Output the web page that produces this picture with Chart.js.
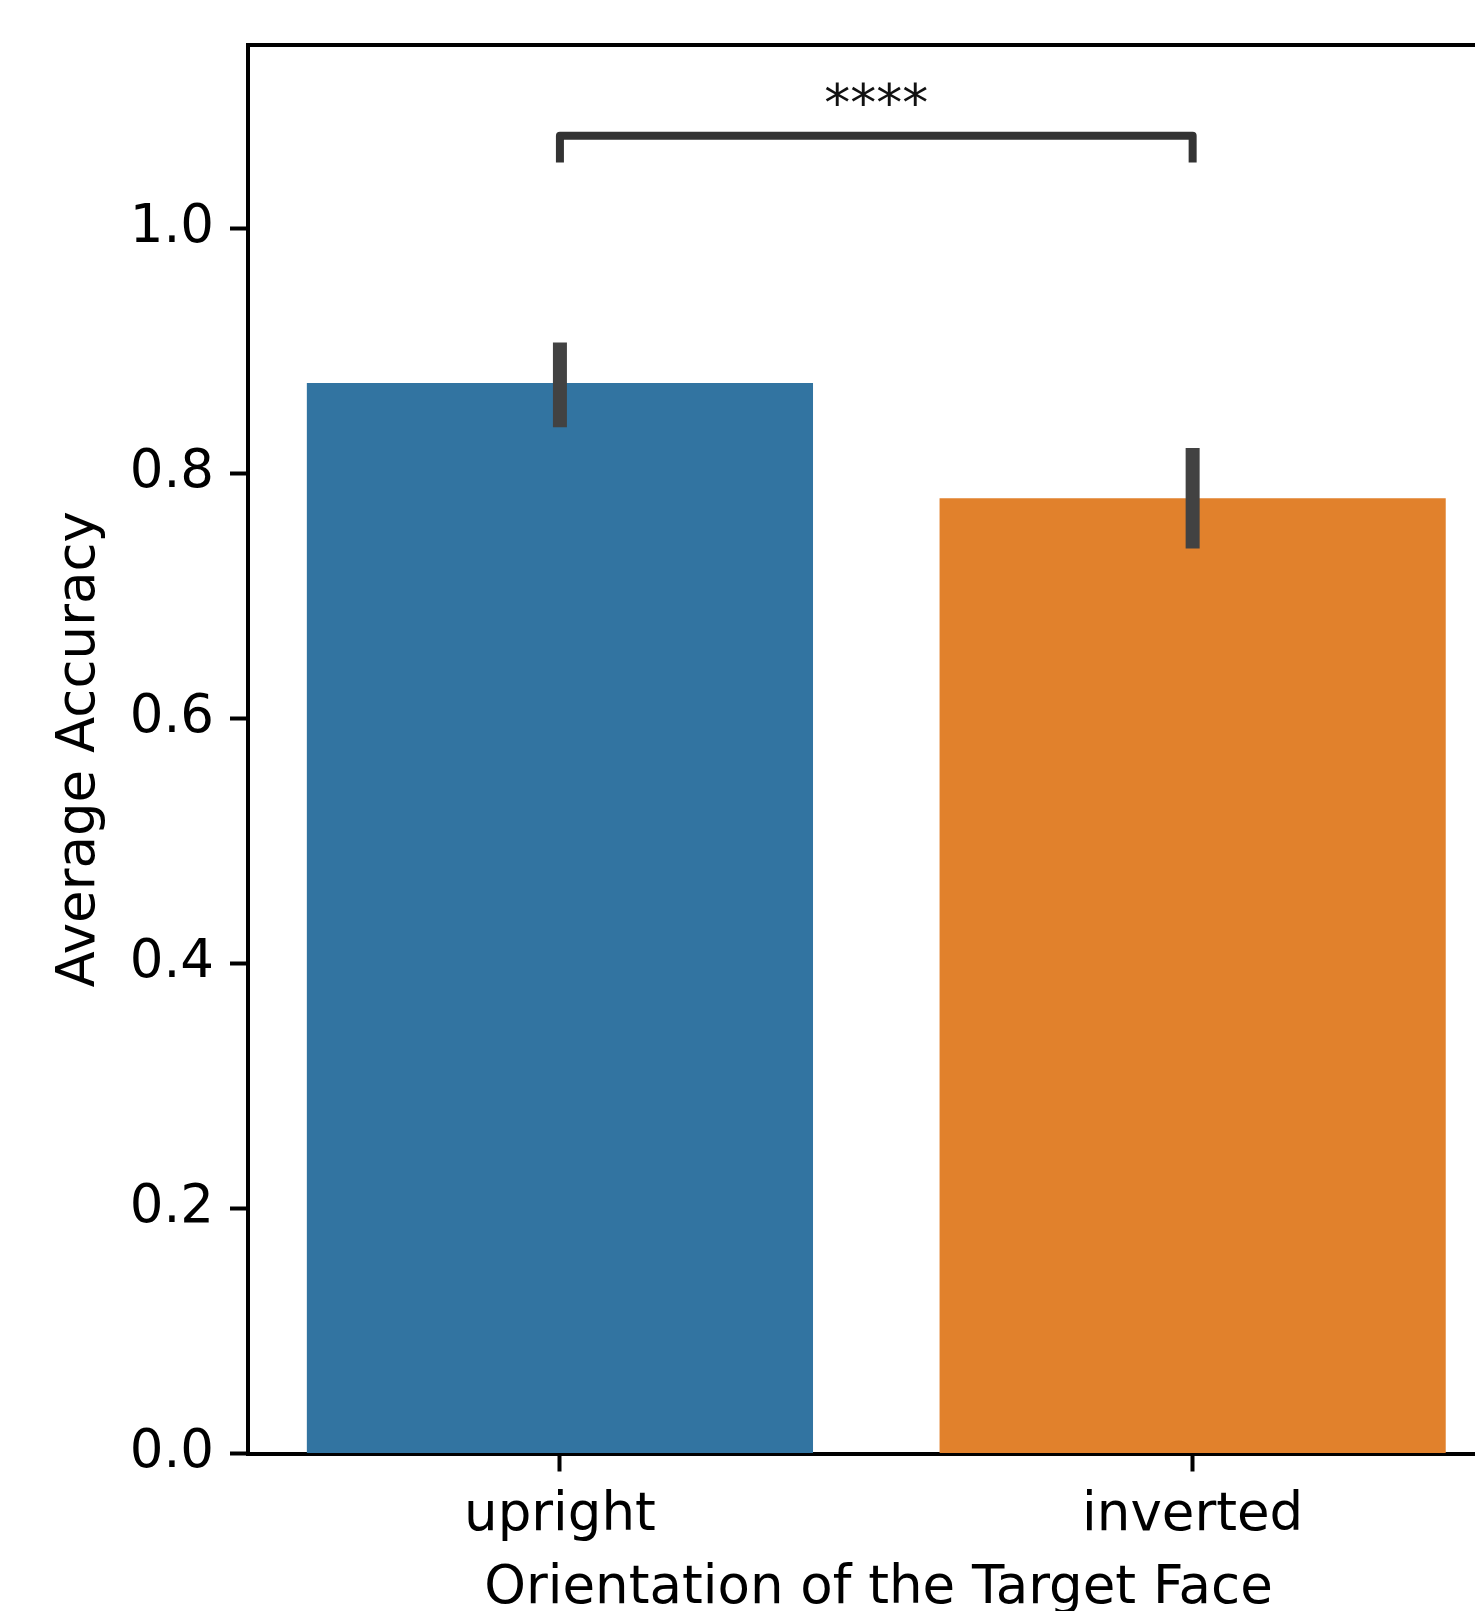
<!DOCTYPE html>
<html>
<head>
<meta charset="utf-8">
<script src="https://cdn.jsdelivr.net/npm/chart.js@4.4.0/dist/chart.umd.min.js"></script>
<style>
  html, body { margin: 0; padding: 0; overflow: hidden; background: #fff; }
  canvas { display: block; }
</style>
</head>
<body>
<canvas id="myChart" width="1560" height="1700" style="width:1560px;height:1700px"></canvas>
<script>
// data
var categories = ['upright', 'inverted'];
var meanAccuracy = [0.874, 0.780];
var ciLow = [0.838, 0.739];
var ciHigh = [0.907, 0.821];
var yTicks = [0.0, 0.2, 0.4, 0.6, 0.8, 1.0];
var barColors = ['#3274a1', '#e1812c'];

// significance annotation
var sigPair = [0, 1];
var sigLabel = '****';
var sigLineY = 1.076;
var sigLegY = 1.054;
var sigTextY = 1.088;

Chart.defaults.font.family = "'DejaVu Sans', sans-serif";
Chart.defaults.font.size = 53;
Chart.defaults.color = '#000';

// error bars + bracket
var annotate = {
  id: 'annotate',
  afterDatasetsDraw: function(chart) {
    var ctx = chart.ctx;
    var xs = chart.scales.x, ys = chart.scales.y;
    ctx.save();
    ctx.strokeStyle = '#424242';
    ctx.lineWidth = 14;
    ctx.lineCap = 'butt';
    categories.forEach(function(c, i) {
      var px = xs.getPixelForValue(i);
      ctx.beginPath();
      ctx.moveTo(px, ys.getPixelForValue(ciLow[i]));
      ctx.lineTo(px, ys.getPixelForValue(ciHigh[i]));
      ctx.stroke();
    });

    var x1 = xs.getPixelForValue(sigPair[0]);
    var x2 = xs.getPixelForValue(sigPair[1]);
    var yLeg = ys.getPixelForValue(sigLegY);
    var yTop = ys.getPixelForValue(sigLineY);
    ctx.strokeStyle = '#333333';
    ctx.lineWidth = 8;
    ctx.lineJoin = 'round';
    ctx.beginPath();
    ctx.moveTo(x1, yLeg);
    ctx.lineTo(x1, yTop);
    ctx.lineTo(x2, yTop);
    ctx.lineTo(x2, yLeg);
    ctx.stroke();

    ctx.fillStyle = '#111';
    ctx.font = "52px 'DejaVu Sans'";
    ctx.textAlign = 'center';
    ctx.textBaseline = 'alphabetic';
    ctx.fillText(sigLabel, (x1 + x2) / 2, ys.getPixelForValue(sigTextY));
    ctx.restore();
  }
};

var ctxDir = document.getElementById('myChart');
var barChart = new Chart(ctxDir, {
  type: 'bar',
  data: {
    datasets: [{
      data: categories.map(function(c, i) { return { x: i, y: meanAccuracy[i] }; }),
      backgroundColor: barColors,
      borderWidth: 0,
      barPercentage: 0.8,
      categoryPercentage: 1.0
    }]
  },
  options: {
    responsive: false,
    animation: false,
    devicePixelRatio: 1,
    layout: { padding: { top: 45, right: 51, left: 0, bottom: 0 } },
    plugins: { legend: { display: false }, tooltip: { enabled: false } },
    scales: {
      x: {
        type: 'linear',
        min: -0.493,
        max: 1.5,
        offset: false,
        afterBuildTicks: function(s) { s.ticks = categories.map(function(c, i) { return { value: i }; }); },
        grid: { drawOnChartArea: false, drawTicks: true, tickLength: 18, tickWidth: 4, tickColor: '#000', offset: false },
        border: { display: true, color: '#000', width: 4 },
        ticks: { padding: 13, maxRotation: 0, autoSkip: false, callback: function(v) { return categories[v]; } },
        title: { display: true, text: 'Orientation of the Target Face', padding: { top: 0, bottom: 79 } },
        afterFit: function(s) { s.height = 246.5; }
      },
      xTop: {
        type: 'linear',
        position: 'top',
        min: -0.493,
        max: 1.5,
        grid: { display: false, drawTicks: false },
        border: { display: true, color: '#000', width: 4 },
        ticks: { display: false },
        afterFit: function(s) { s.height = 0; }
      },
      y: {
        min: 0,
        max: 1.15,
        afterBuildTicks: function(s) { s.ticks = yTicks.map(function(v) { return { value: v }; }); },
        grid: { drawOnChartArea: false, drawTicks: true, tickLength: 18, tickWidth: 4, tickColor: '#000' },
        border: { display: true, color: '#000', width: 4 },
        ticks: { padding: 16, font: { lineHeight: 1.0 }, callback: function(v) { return v.toFixed(1); } },
        title: { display: true, text: 'Average Accuracy', padding: { top: 48, bottom: 0 } },
        afterFit: function(s) { s.width = 248; }
      }
    }
  },
  plugins: [annotate]
});
</script>
</body>
</html>
